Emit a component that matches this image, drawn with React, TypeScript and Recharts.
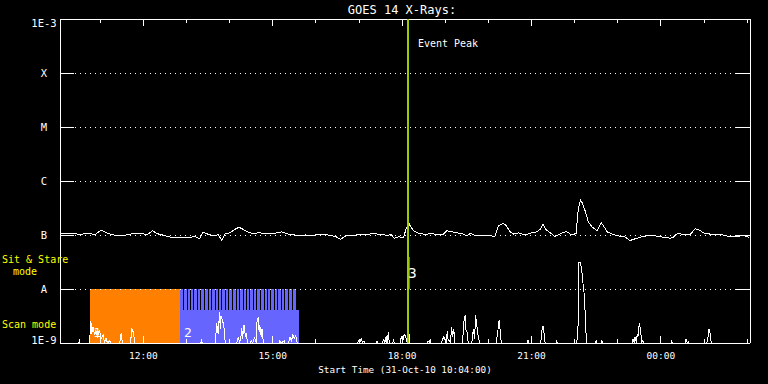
import React from 'react';
import { ComposedChart, Line, XAxis, YAxis, ReferenceArea, ReferenceLine } from 'recharts';

const MONO = '"DejaVu Sans Mono", monospace';
const START = 604; // 10:04, minutes since 31-Oct 00:00
const END = 1564; // 02:04 next day

const levels = [1e-9, 1e-8, 1e-7, 1e-6, 1e-5, 1e-4, 1e-3];
const levelNames = ['1E-9', 'A', 'B', 'C', 'M', 'X', '1E-3'];
const gridLevels = [1e-8, 1e-7, 1e-6, 1e-5, 1e-4];
const labelTicks = [720, 900, 1080, 1260, 1440];
const hourTicks = [660, 720, 780, 840, 900, 960, 1020, 1080, 1140, 1200, 1260, 1320, 1380, 1440, 1500, 1560];

// 1-8 A channel [minute, W/m2]
const longChannel = [
  [604, 1.04e-7], [618, 1.07e-7], [632, 1.03e-7], [646, 1.07e-7], [653, 1.01e-7], [661, 1.24e-7],
  [667, 1.12e-7], [674, 1.04e-7], [683, 0.97e-7], [694, 0.99e-7], [706, 1.06e-7], [718, 1.06e-7],
  [725, 1.01e-7], [733, 1.2e-7], [739, 1.06e-7], [748, 0.99e-7], [759, 0.9e-7], [771, 0.89e-7],
  [782, 0.9e-7], [792, 0.93e-7], [798, 0.85e-7], [803, 1.14e-7], [810, 1.03e-7], [818, 0.96e-7],
  [824, 1.01e-7], [829, 0.81e-7], [834, 1.06e-7], [841, 1.1e-7], [847, 1.27e-7], [853, 1.39e-7],
  [859, 1.27e-7], [866, 1.12e-7], [873, 1.07e-7], [881, 1.1e-7], [889, 1.07e-7], [901, 1.07e-7],
  [912, 1.14e-7], [922, 1.03e-7], [933, 0.99e-7], [945, 1.0e-7], [956, 0.99e-7], [968, 1.03e-7],
  [980, 0.99e-7], [988, 0.93e-7], [994, 0.83e-7], [1003, 0.99e-7], [1012, 0.99e-7], [1021, 1.01e-7],
  [1031, 1.03e-7], [1040, 1.06e-7], [1049, 1.03e-7], [1058, 0.99e-7], [1065, 1.01e-7], [1069, 0.87e-7],
  [1075, 0.93e-7], [1082, 0.88e-7], [1085, 1.24e-7], [1089, 1.69e-7], [1091, 1.5e-7], [1096, 1.2e-7],
  [1103, 1.07e-7], [1112, 1.03e-7], [1121, 1.06e-7], [1130, 1.01e-7], [1137, 1.03e-7], [1142, 1.2e-7],
  [1149, 1.15e-7], [1156, 1.1e-7], [1165, 1.04e-7], [1170, 0.96e-7], [1175, 1.07e-7], [1181, 0.99e-7],
  [1191, 0.96e-7], [1200, 0.99e-7], [1209, 0.93e-7], [1214, 1.47e-7], [1221, 1.65e-7], [1225, 1.47e-7],
  [1230, 1.15e-7], [1235, 1.04e-7], [1242, 1.1e-7], [1251, 1.0e-7], [1260, 1.1e-7], [1267, 1.14e-7],
  [1272, 1.27e-7], [1276, 1.58e-7], [1280, 1.27e-7], [1286, 1.1e-7], [1293, 0.93e-7], [1297, 1.01e-7],
  [1304, 1.12e-7], [1309, 1.15e-7], [1316, 1.0e-7], [1322, 1.07e-7], [1325, 2.9e-7], [1328, 4.44e-7],
  [1331, 3.87e-7], [1335, 2.7e-7], [1339, 1.76e-7], [1344, 1.42e-7], [1351, 1.2e-7], [1354, 1.42e-7],
  [1357, 1.69e-7], [1361, 1.42e-7], [1365, 1.15e-7], [1372, 1.04e-7], [1381, 0.96e-7], [1390, 0.93e-7],
  [1397, 0.79e-7], [1404, 0.85e-7], [1410, 0.9e-7], [1425, 1.0e-7], [1439, 0.93e-7], [1453, 0.87e-7],
  [1457, 0.9e-7], [1463, 1.07e-7], [1471, 1.03e-7], [1481, 1.03e-7], [1488, 1.31e-7], [1493, 1.24e-7],
  [1501, 1.07e-7], [1511, 1.03e-7], [1522, 1.04e-7], [1532, 0.96e-7], [1541, 0.93e-7], [1550, 0.96e-7],
  [1557, 0.96e-7], [1563, 0.9e-7],
];

// 0.5-4 A channel, mostly at the floor
const shortChannel = [
  [604, 1e-9], [630, 1e-9], [631, 1.1e-9], [632, 1e-9],
  [645, 1e-9], [646, 1.6e-9], [647, 2.6e-9], [648, 1.5e-9], [650, 2.0e-9], [652, 1.4e-9], [654, 1.7e-9],
  [656, 1.3e-9], [659, 1.75e-9], [661, 1.2e-9], [664, 1.4e-9], [666, 1e-9], [668, 1.25e-9], [670, 1e-9],
  [673, 1.1e-9], [675, 1e-9],
  [687, 1e-9], [689, 1.5e-9], [691, 1e-9],
  [702, 1e-9], [704, 1.8e-9], [706, 1.6e-9], [708, 1e-9],
  [800, 1e-9], [801, 1.1e-9], [802, 1e-9],
  [820, 1e-9], [822, 2.3e-9], [824, 1.5e-9], [826, 3.7e-9], [827, 1.8e-9], [828, 3.1e-9], [830, 2.7e-9],
  [832, 2.0e-9], [834, 1e-9],
  [850, 1e-9], [852, 1.3e-9], [854, 1e-9], [856, 1.4e-9], [857, 1.9e-9], [858, 1.2e-9], [860, 2.15e-9],
  [862, 1.3e-9], [863, 1.5e-9], [865, 1e-9],
  [869, 1e-9], [870, 1.1e-9], [872, 1e-9], [874, 1.2e-9], [875, 1.25e-9], [877, 1e-9], [878, 2.4e-9],
  [880, 3.0e-9], [881, 1.6e-9], [882, 2.15e-9], [884, 1.3e-9], [885, 1.85e-9], [887, 1e-9],
  [909, 1e-9], [910, 1.1e-9], [912, 1e-9], [916, 1.1e-9], [917, 1e-9],
  [922, 1e-9], [924, 1.3e-9], [926, 1.1e-9], [928, 1.4e-9], [930, 1.2e-9], [932, 1.35e-9], [934, 1e-9],
  [1018, 1e-9], [1020, 1.15e-9], [1021, 1e-9], [1023, 1.2e-9], [1025, 1e-9], [1027, 1.1e-9], [1028, 1e-9],
  [1044, 1e-9], [1045, 1.08e-9], [1046, 1e-9],
  [1053, 1e-9], [1054, 1.2e-9], [1056, 1e-9], [1058, 1.35e-9], [1059, 1e-9], [1061, 1.6e-9], [1062, 1e-9],
  [1067, 1e-9], [1068, 1.1e-9], [1069, 1e-9],
  [1077, 1e-9], [1079, 1.3e-9], [1081, 1.1e-9], [1083, 1.45e-9], [1085, 1.3e-9], [1087, 1e-9],
  [1090, 1.45e-9], [1091, 1e-9],
  [1115, 1e-9], [1116, 1.1e-9], [1118, 1e-9], [1119, 1.2e-9], [1120, 1e-9],
  [1135, 1e-9], [1136, 1.15e-9], [1138, 1.3e-9], [1141, 1e-9], [1143, 1.7e-9], [1144, 1.1e-9],
  [1145, 1.15e-9], [1147, 1e-9], [1149, 1.98e-9], [1150, 1.3e-9], [1152, 1.8e-9], [1153, 1e-9],
  [1164, 1e-9], [1166, 2.55e-9], [1168, 3.3e-9], [1169, 1.6e-9], [1170, 1.74e-9], [1172, 1e-9],
  [1177, 1e-9], [1179, 1.8e-9], [1181, 1.2e-9], [1182, 3.3e-9], [1184, 2.06e-9], [1186, 1.3e-9], [1188, 1e-9],
  [1211, 1e-9], [1213, 1.6e-9], [1215, 2.66e-9], [1217, 1.4e-9], [1218, 1e-9],
  [1254, 1e-9], [1255, 1.15e-9], [1256, 1e-9],
  [1273, 1e-9], [1274, 1.6e-9], [1276, 2.06e-9], [1278, 1.35e-9], [1279, 1e-9],
  [1294, 1e-9], [1295, 1.1e-9], [1296, 1e-9],
  [1323, 1e-9], [1325, 2.3e-9], [1326, 3.1e-8], [1328, 3.1e-8], [1330, 2.2e-8], [1331, 1.5e-8],
  [1333, 9.0e-9], [1334, 4.5e-9], [1335, 3.6e-9], [1336, 1.3e-9], [1337, 1e-9],
  [1349, 1e-9], [1350, 1.1e-9], [1351, 1e-9],
  [1357, 1e-9], [1358, 1.1e-9], [1359, 1e-9],
  [1400, 1e-9], [1401, 1.2e-9], [1403, 1e-9], [1404, 1.3e-9], [1406, 1e-9], [1407, 1.45e-9], [1408, 1.3e-9],
  [1410, 2.3e-9], [1412, 1.7e-9], [1413, 1e-9], [1415, 1.1e-9], [1416, 1e-9],
  [1454, 1e-9], [1455, 1.08e-9], [1456, 1e-9],
  [1474, 1e-9], [1475, 1.2e-9], [1477, 1e-9], [1478, 1.08e-9], [1479, 1e-9],
  [1504, 1e-9], [1506, 1.4e-9], [1507, 1.81e-9], [1509, 1.45e-9], [1510, 1e-9],
  [1564, 1e-9],
];

// modes / events
const sitStare = [646, 771];
const scanMode = [771, 937];
const scanCombEnd = 932;
const scanFloor = 4.1e-9;
const scanGaps = [776, 781, 786, 790, 795, 800, 805, 810, 815, 820, 824, 829, 834, 839, 844, 849,
  854, 859, 863, 868, 873, 878, 883, 888, 893, 897, 902, 907, 912, 917, 922, 927];
const eventPeak = 1088;
const event3 = 1090;

const toPts = (arr: number[][]) => arr.map(([t, f]) => ({ t, f }));
const longData = toPts(longChannel);
const shortData = toPts(shortChannel);

const pad = (n: number) => String(n).padStart(2, '0');
const fmtTime = (m: number) => `${pad(Math.floor(m / 60) % 24)}:${pad(m % 60)}`;

// inward tick lengths: decades per px = 1/54, minutes per px = 1/0.71875
const decPx = (px: number) => Math.pow(10, px / 54);
const minPx = (px: number) => px / 0.71875;

function LevelTick({ x, y, payload }: any) {
  const k = Math.round(Math.log10(payload.value)) + 9;
  const dy = k === 6 ? 4 : k === 0 ? -3 : 0;
  return (
    <text x={x - 16} y={y + dy} dy="0.35em" textAnchor="middle" fill="#fff" fontSize={10.5} fontFamily={MONO}>
      {levelNames[k]}
    </text>
  );
}

function TimeTick({ x, y, payload }: any) {
  return (
    <text x={x} y={y + 16} textAnchor="middle" fill="#fff" fontSize={9.5} fontFamily={MONO}>
      {fmtTime(payload.value)}
    </text>
  );
}

export default function App() {
  const common = { xAxisId: 'b', yAxisId: 'l' };
  const xDom: [number, number] = [START, END];
  const yDom: [number, number] = [1e-9, 1e-3];
  const tickLen = (t: number) => (labelTicks.includes(t) ? 7 : 4);
  return (
    <div style={{ position: 'absolute', left: 0, top: 0, width: 768, height: 384, background: '#000' }}>
      <style>{'.recharts-surface path, .recharts-surface line { shape-rendering: crispEdges; }'}</style>
      <ComposedChart width={768} height={384} margin={{ top: 19, right: 18, bottom: 0, left: 0 }}>
        <XAxis xAxisId="b" dataKey="t" type="number" domain={xDom} ticks={labelTicks} interval={0}
          height={41} stroke="#fff" tickLine={false} tickSize={0} tickMargin={0} tick={<TimeTick />} allowDataOverflow />
        <YAxis yAxisId="l" type="number" scale="log" domain={yDom} ticks={levels} interval={0} width={60}
          stroke="#fff" tickLine={false} tickSize={0} tickMargin={0} tick={<LevelTick />} allowDataOverflow />

        <ReferenceArea {...common} x1={sitStare[0]} x2={sitStare[1]} y1={1e-9} y2={1e-8} fill="#ff8000" fillOpacity={1}
          label={(p: any) => (
            <text x={p.viewBox.x + 3} y={p.viewBox.y + p.viewBox.height - 6} fill="#fff" fontSize={13} fontFamily={MONO}>1</text>
          )} />
        <ReferenceArea {...common} x1={scanMode[0]} x2={scanMode[1]} y1={1e-9} y2={scanFloor} fill="#6666ff" fillOpacity={1}
          label={(p: any) => (
            <text x={p.viewBox.x + 4} y={p.viewBox.y + p.viewBox.height - 6} fill="#fff" fontSize={13} fontFamily={MONO}>2</text>
          )} />
        <ReferenceArea {...common} x1={scanMode[0]} x2={scanCombEnd} y1={scanFloor} y2={1e-8} fill="#6666ff" fillOpacity={1} />
        {scanGaps.map((g) => (
          <ReferenceLine key={`g${g}`} {...common} segment={[{ x: g, y: scanFloor }, { x: g, y: 1e-8 }]} stroke="#000" strokeWidth={1} />
        ))}
        {gridLevels.map((v) => (
          <ReferenceLine key={`d${v}`} {...common} y={v} stroke="#fff" strokeDasharray="1 4" />
        ))}

        {/* frame: top and right edges, inward ticks */}
        <ReferenceLine {...common} y={1e-3} stroke="#fff" />
        <ReferenceLine {...common} x={END} stroke="#fff" />
        {hourTicks.map((t) => (
          <ReferenceLine key={`t${t}`} {...common} segment={[{ x: t, y: 1e-3 }, { x: t, y: 1e-3 / decPx(tickLen(t)) }]} stroke="#fff" />
        ))}
        {hourTicks.map((t) => (
          <ReferenceLine key={`b${t}`} {...common} segment={[{ x: t, y: 1e-9 }, { x: t, y: 1e-9 * decPx(tickLen(t)) }]} stroke="#fff" />
        ))}
        {gridLevels.map((v) => (
          <ReferenceLine key={`l${v}`} {...common} segment={[{ x: START, y: v }, { x: START + minPx(14), y: v }]} stroke="#fff" />
        ))}
        {gridLevels.map((v) => (
          <ReferenceLine key={`r${v}`} {...common} segment={[{ x: END - minPx(14), y: v }, { x: END, y: v }]} stroke="#fff" />
        ))}

        <Line {...common} data={longData} dataKey="f" type="linear" stroke="#fff" strokeWidth={1} dot={false} isAnimationActive={false} />
        <Line {...common} data={shortData} dataKey="f" type="linear" stroke="#fff" strokeWidth={1} dot={false} isAnimationActive={false} />

        <ReferenceLine {...common} x={eventPeak} stroke="#9ccc00" strokeWidth={2}
          label={(p: any) => (
            <text x={p.viewBox.x + 10} y={p.viewBox.y + 28} fill="#fff" fontSize={10} fontFamily={MONO}>Event Peak</text>
          )} />
        <ReferenceLine {...common} segment={[{ x: event3, y: 1e-8 }, { x: event3, y: 3.9e-8 }]} stroke="#d0309a" strokeWidth={1}
          label={(p: any) => (
            <text x={p.viewBox.x - 1} y={p.viewBox.y + 21} fill="#fff" fontSize={14} fontFamily={MONO}>3</text>
          )} />
      </ComposedChart>
      <svg width={768} height={384} style={{ position: 'absolute', left: 0, top: 0, pointerEvents: 'none' }}>
        <text x={402} y={14} textAnchor="middle" fill="#fff" fontSize={12} fontFamily={MONO}>GOES 14 X-Rays:</text>
        <text x={2} y={263} fill="#ffff00" fontSize={10} fontFamily={MONO}>Sit &amp; Stare</text>
        <text x={13} y={275} fill="#ffff00" fontSize={10} fontFamily={MONO}>mode</text>
        <text x={2} y={328} fill="#ffff00" fontSize={10} fontFamily={MONO}>Scan mode</text>
        <text x={405} y={373} textAnchor="middle" fill="#fff" fontSize={9.3} fontFamily={MONO}>Start Time (31-Oct-10 10:04:00)</text>
      </svg>
    </div>
  );
}
